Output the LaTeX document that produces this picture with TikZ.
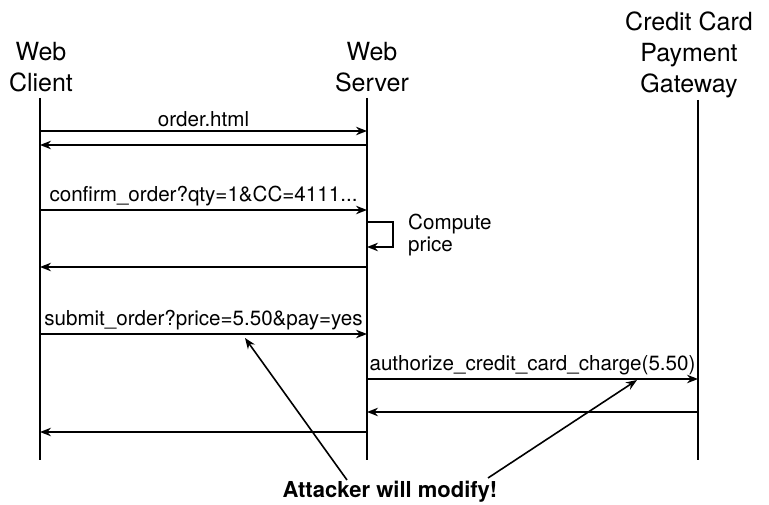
\documentclass[tikz,border=0pt]{standalone}
\usepackage{fontspec}
\setmainfont{TeX Gyre Heros}
\usetikzlibrary{arrows.meta}

\tikzset{
  actor/.style={align=center, inner sep=0pt, font=\fontsize{25}{31}\selectfont},
  lifeline/.style={line width=1.6pt},
  msg/.style={line width=1.6pt, -{Stealth[length=11pt,width=8.5pt]}},
  lbl/.style={inner sep=3pt, font=\fontsize{20.6}{22}\selectfont}
}

\begin{document}
\begin{tikzpicture}[x=1pt, y=-1pt]
    \useasboundingbox (0,0) rectangle (769,505);

    % Actors
    \node[actor, anchor=north] (client) at (41,42) {Web\\Client};
    \node[actor, anchor=north] (server) at (372,42) {Web\\Server};
    \node[actor, anchor=north] (gateway) at (689,12) {Credit Card\\Payment\\Gateway};

    % Lifelines
    \coordinate (cl) at (40,98);
    \coordinate (sv) at (367,98);
    \coordinate (gw) at (698,100);
    \draw[lifeline] (cl) -- (cl |- 0,460);
    \draw[lifeline] (sv) -- (sv |- 0,460);
    \draw[lifeline] (gw) -- (gw |- 0,460);

    % Messages
    \draw[msg] (cl |- 0,131) -- node[lbl, above] {order.html} (sv |- 0,131);
    \draw[msg] (sv |- 0,145) -- (cl |- 0,145);

    \draw[msg] (cl |- 0,210) -- node[lbl, above] {confirm\_order?qty=1\&CC=4111...} (sv |- 0,210);
    \draw[msg] (sv |- 0,222) -| (393,247) -- (sv |- 0,247);
    \node[lbl, align=left, anchor=north west] (compute) at (405,211) {Compute\\price};
    \draw[msg] (sv |- 0,267) -- (cl |- 0,267);

    \draw[msg] (cl |- 0,334) -- node[lbl, above] {submit\_order?price=5.50\&pay=yes} (sv |- 0,334);
    \draw[msg] (sv |- 0,379) -- node[lbl, above] {authorize\_credit\_card\_charge(5.50)} (gw |- 0,379);
    \draw[msg] (gw |- 0,412) -- (sv |- 0,412);
    \draw[msg] (sv |- 0,432) -- (cl |- 0,432);

    % Attacker
    \node[lbl, font=\fontsize{22}{24}\bfseries\selectfont] (attacker) at (390,492) {Attacker will modify!};
    \coordinate (tail1) at (347,480);
    \coordinate (tail2) at (488,478);
    \coordinate (head1) at (245,338);
    \coordinate (head2) at (637,380);
    \draw[msg] (tail1) -- (head1);
    \draw[msg] (tail2) -- (head2);
\end{tikzpicture}
\end{document}
